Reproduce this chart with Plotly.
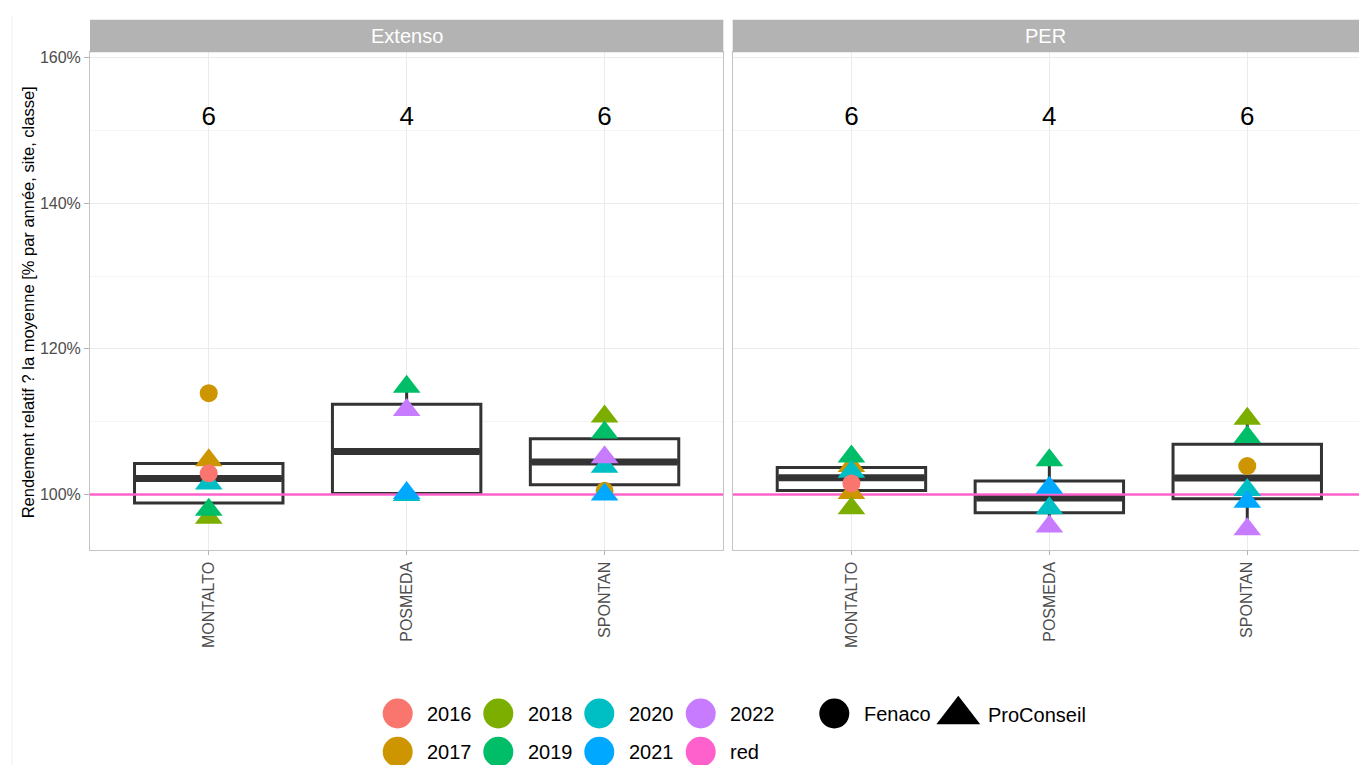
import numpy as np
import plotly.graph_objects as go

# ---------------- data ----------------
facets = ["Extenso", "PER"]
sites = ["MONTALTO", "POSMEDA", "SPONTAN"]
year_levels = ["2016", "2017", "2018", "2019", "2020", "2021", "2022"]
year_colors = ["#F8766D", "#CD9600", "#7CAE00", "#00BE67", "#00BFC4", "#00A9FF", "#C77CFF"]
ref_label = "red"
ref_color = "#FF61CC"
ref_value = 100
source_levels = ["Fenaco", "ProConseil"]
source_symbols = ["circle", "triangle-up"]

# one row per observation (drawing order)
pt_facet = (["Extenso"] * 16) + (["PER"] * 16)
pt_site = (["MONTALTO"] * 6 + ["POSMEDA"] * 4 + ["SPONTAN"] * 6) * 2
pt_year = [
    "2017", "2018", "2019", "2020", "2016", "2017",
    "2019", "2020", "2021", "2022",
    "2017", "2018", "2019", "2020", "2021", "2022",
    "2017", "2017", "2018", "2019", "2020", "2016",
    "2019", "2020", "2021", "2022",
    "2017", "2018", "2019", "2020", "2021", "2022",
]
pt_source = [
    "ProConseil", "ProConseil", "ProConseil", "ProConseil", "Fenaco", "Fenaco",
    "ProConseil", "ProConseil", "ProConseil", "ProConseil",
    "Fenaco", "ProConseil", "ProConseil", "ProConseil", "ProConseil", "ProConseil",
    "ProConseil", "ProConseil", "ProConseil", "ProConseil", "ProConseil", "Fenaco",
    "ProConseil", "ProConseil", "ProConseil", "ProConseil",
    "Fenaco", "ProConseil", "ProConseil", "ProConseil", "ProConseil", "ProConseil",
]
pt_value = [
    104.7, 96.8, 97.9, 101.5, 102.9, 113.9,
    114.8, 99.9, 100.2, 111.6,
    100.5, 110.7, 108.5, 103.8, 100.0, 105.1,
    103.9, 100.2, 98.1, 105.2, 103.1, 101.5,
    104.7, 98.1, 100.9, 95.6,
    103.9, 110.4, 107.9, 100.6, 99.0, 95.2,
]
count_label_y = 151.6

y_title = "Rendement relatif ? la moyenne [% par année, site, classe]"

# ---------------- layout constants ----------------
W, H = 1359, 765
FONT = "Liberation Sans, Arial, sans-serif"
panel_top, panel_bot = 49.5, 549.5
strip_top = 16.7
panel_x = [(90.0, 723.3), (732.7, 1359.0)]
unit_px = (panel_x[0][1] - panel_x[0][0]) / 3.2
y_range = [92.31, 160.75]
box_width = 0.75
box_color = "#333333"
grid_major = "#EBEBEB"
grid_minor = "#F4F4F4"
border_color = "#C4C4C4"


def fx(p):
    return p / W


def fy(p):
    return 1 - p / H


color_of = dict(zip(year_levels, year_colors))
symbol_of = dict(zip(source_levels, source_symbols))
size_of = {"circle": 18, "triangle-up": 24}

pf = np.array(pt_facet)
ps = np.array(pt_site)
pv = np.array(pt_value, dtype=float)
py_ = np.array(pt_year)
psrc = np.array(pt_source)

fig = go.Figure()

for k, facet in enumerate(facets):
    xa = "x" if k == 0 else "x2"
    ya = "y" if k == 0 else "y2"
    xr = [0.4, 0.4 + (panel_x[k][1] - panel_x[k][0]) / unit_px]

    # boxplot statistics (R type 7 quantiles, ggplot whiskers)
    q1s, meds, q3s, lows, highs, pos, counts = [], [], [], [], [], [], []
    for j, s in enumerate(sites):
        v = pv[(pf == facet) & (ps == s)]
        q1, med, q3 = np.percentile(v, [25, 50, 75])
        iqr = q3 - q1
        lo = v[v >= q1 - 1.5 * iqr].min()
        hi = v[v <= q3 + 1.5 * iqr].max()
        q1s.append(q1); meds.append(med); q3s.append(q3)
        lows.append(lo); highs.append(hi); pos.append(j + 1); counts.append(len(v))

    fig.add_trace(go.Box(
        x=pos, q1=q1s, median=meds, q3=q3s, lowerfence=lows, upperfence=highs,
        width=box_width, whiskerwidth=0, boxpoints=False,
        line=dict(color=box_color, width=3), fillcolor="white",
        xaxis=xa, yaxis=ya, showlegend=False, hoverinfo="skip"))

    # thick median
    mx, my = [], []
    for p, m in zip(pos, meds):
        mx += [p - box_width / 2 + 0.006, p + box_width / 2 - 0.006, None]
        my += [m, m, None]
    fig.add_trace(go.Scatter(x=mx, y=my, mode="lines",
                             line=dict(color=box_color, width=7),
                             xaxis=xa, yaxis=ya, showlegend=False, hoverinfo="skip"))

    # reference line
    fig.add_trace(go.Scatter(x=xr, y=[ref_value, ref_value], mode="lines",
                             line=dict(color=ref_color, width=2.5),
                             xaxis=xa, yaxis=ya, showlegend=False, hoverinfo="skip"))

    # points
    m = pf == facet
    xs = [sites.index(s) + 1 for s in ps[m]]
    syms = [symbol_of[s] for s in psrc[m]]
    fig.add_trace(go.Scatter(
        x=xs, y=pv[m], mode="markers",
        marker=dict(color=[color_of[y] for y in py_[m]], symbol=syms,
                    size=[size_of[s] for s in syms], line=dict(width=0), opacity=1),
        xaxis=xa, yaxis=ya, showlegend=False, hoverinfo="skip"))

    # counts
    fig.add_trace(go.Scatter(
        x=pos, y=[count_label_y] * 3, mode="text", text=[str(c) for c in counts],
        textfont=dict(size=26, color="black", family=FONT),
        xaxis=xa, yaxis=ya, showlegend=False, hoverinfo="skip"))

# ---------------- legend (manual) ----------------
leg_rows_y = [713.3, 751.7]
leg_cols_x = [397.7, 498.3, 599.3, 700.7]
leg_text_dx = 27.5
leg_labels = year_levels + [ref_label]
leg_colors = year_colors + [ref_color]
lx, ly = [], []
for i, lab in enumerate(leg_labels):
    lx.append(leg_cols_x[i // 2])
    ly.append(leg_rows_y[i % 2])
fig.add_trace(go.Scatter(x=lx, y=ly, mode="markers",
                         marker=dict(color=leg_colors, size=30, symbol="circle",
                                     line=dict(width=0), opacity=1),
                         xaxis="x3", yaxis="y3", showlegend=False, hoverinfo="skip"))
shape_leg_x = [834.3, 958.3]
shape_leg_y = [713.3, 714.5]
for x, y, sym, sz in zip(shape_leg_x, shape_leg_y, source_symbols, [30, 38]):
    fig.add_trace(go.Scatter(x=[x], y=[y], mode="markers",
                             marker=dict(color="#000000", size=sz, symbol=sym,
                                         line=dict(width=0), opacity=1),
                             opacity=1,
                             xaxis="x3", yaxis="y3", showlegend=False, hoverinfo="skip"))

annotations = []
for x, y, lab in zip(lx, ly, leg_labels):
    annotations.append(dict(x=x + leg_text_dx, y=y, xref="x3", yref="y3", text=lab,
                            showarrow=False, xanchor="left", yanchor="middle",
                            font=dict(size=20, color="black", family=FONT)))
for x, y, lab in zip(shape_leg_x, shape_leg_y, source_levels):
    annotations.append(dict(x=x + leg_text_dx, y=y, xref="x3", yref="y3", text=lab,
                            showarrow=False, xanchor="left", yanchor="middle",
                            font=dict(size=20, color="black", family=FONT)))

# strips
shapes = []
for k, facet in enumerate(facets):
    x0, x1 = panel_x[k]
    shapes.append(dict(type="rect", xref="paper", yref="paper", x0=fx(x0), x1=fx(x1),
                       y0=fy(panel_top), y1=fy(strip_top), fillcolor="#B3B3B3",
                       line=dict(width=0), layer="above"))
    annotations.append(dict(x=fx((x0 + x1) / 2), y=fy((panel_top + strip_top) / 2),
                            xref="paper", yref="paper", text=facet, showarrow=False,
                            xanchor="center", yanchor="middle",
                            font=dict(size=20, color="white", family=FONT)))
# faint frame line at far left
shapes.append(dict(type="line", xref="paper", yref="paper", x0=fx(12), x1=fx(12),
                   y0=0, y1=fy(13), line=dict(color="#EEEEEE", width=1)))

annotations.append(dict(x=fx(28), y=fy((panel_top + panel_bot) / 2 + 1), xref="paper", yref="paper",
                        text=y_title, showarrow=False, textangle=-90,
                        xanchor="center", yanchor="middle",
                        font=dict(size=16.5, color="black", family=FONT)))


def xaxis_cfg(k):
    x0, x1 = panel_x[k]
    return dict(domain=[fx(x0), fx(x1)],
                range=[0.4, 0.4 + (x1 - x0) / unit_px],
                tickmode="array", tickvals=[1, 2, 3], ticktext=sites, tickangle=-90,
                ticks="outside", ticklen=4, tickcolor="#B3B3B3",
                tickfont=dict(size=16, color="#4D4D4D", family=FONT),
                showgrid=True, gridcolor=grid_major, gridwidth=1, zeroline=False,
                showline=True, linecolor=border_color, linewidth=1, mirror=True,
                anchor="y" if k == 0 else "y2", fixedrange=True)


def yaxis_cfg(k):
    d = dict(domain=[fy(panel_bot), fy(panel_top)], range=y_range,
             tickmode="linear", tick0=0, dtick=20, ticksuffix="%",
             showgrid=True, gridcolor=grid_major, gridwidth=1,
             minor=dict(dtick=10, tick0=0, showgrid=True, gridcolor=grid_minor, ticks=""),
             zeroline=False, showline=True, linecolor=border_color, linewidth=1,
             anchor="x" if k == 0 else "x2", fixedrange=True)
    if k == 0:
        d.update(ticks="outside", ticklen=5, tickcolor="#B3B3B3",
                 tickfont=dict(size=16, color="#4D4D4D", family=FONT), mirror=True)
    else:
        d.update(showticklabels=False, ticks="", mirror=False)
    return d


fig.update_layout(
    width=W, height=H,
    margin=dict(l=0, r=0, t=0, b=0),
    paper_bgcolor="white", plot_bgcolor="rgba(0,0,0,0)",
    showlegend=False,
    xaxis=xaxis_cfg(0), yaxis=yaxis_cfg(0),
    xaxis2=xaxis_cfg(1), yaxis2=yaxis_cfg(1),
    xaxis3=dict(domain=[0, 1], range=[0, W], visible=False, anchor="y3", fixedrange=True),
    yaxis3=dict(domain=[0, (H - 688) / H], range=[H, 688], visible=False, anchor="x3", fixedrange=True),
    shapes=shapes, annotations=annotations,
    font=dict(family=FONT),
)

fig.write_html(
    "out.html",
    config={"displayModeBar": False},
    post_script="document.body.style.margin='0';document.body.style.padding='0';"
                "document.body.style.overflow='hidden';"
                "document.documentElement.style.overflow='hidden';",
)
